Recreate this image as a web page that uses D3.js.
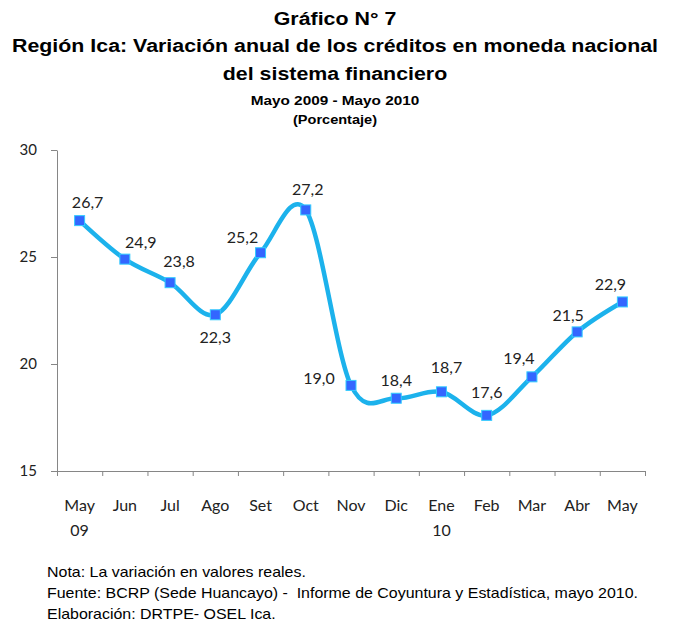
<!DOCTYPE html>
<html>
<head>
<meta charset="utf-8">
<script src="https://cdn.jsdelivr.net/npm/d3@7"></script>
<style>
  body { margin: 0; background: #fff; }
  .title { font-family: 'Liberation Sans', Arial, sans-serif; font-weight: bold; fill: #000; }
  .note { font-family: 'Liberation Sans', Arial, sans-serif; font-size: 14px; fill: #000; }
  .axis path, .axis line { stroke: #868686; }
  .axis text { font-family: Lato, 'Open Sans', sans-serif; font-size: 16px; fill: #222; }
  .lbl { font-family: Lato, 'Open Sans', sans-serif; font-size: 16px; fill: #222; }
</style>
</head>
<body>
<div id="chart"></div>
<script>
const months = ['May', 'Jun', 'Jul', 'Ago', 'Set', 'Oct', 'Nov', 'Dic', 'Ene', 'Feb', 'Mar', 'Abr', 'May']
const years = ['09', '', '', '', '', '', '', '', '10', '', '', '', '']
const values = [26.7, 24.9, 23.8, 22.3, 25.2, 27.2, 19.0, 18.4, 18.7, 17.6, 19.4, 21.5, 22.9]
const yTicks = [15, 20, 25, 30]

// where each value label sits relative to its point
const labelOffset = [
  [8, -19], [16, -18], [9, -22], [0, 22], [-18, -16], [2, -21], [-32, -8],
  [0, -19], [5, -25], [0, -24], [-13, -19], [-9, -17], [-12, -18]
]

const width = 673
const height = 640
const plot = { left: 57, right: 645, top: 150, bottom: 471 }

const svg = d3.select('#chart').append('svg')
  .attr('width', width)
  .attr('height', height)

// the source image is a bit stretched sideways, so text gets a horizontal scale
const titles = [
  { text: 'Gráfico N° 7', y: 25, size: 19, sx: 1.125 },
  { text: 'Región Ica: Variación anual de los créditos en moneda nacional', y: 52, size: 19, sx: 1.125 },
  { text: 'del sistema financiero', y: 80, size: 19, sx: 1.125 },
  { text: 'Mayo 2009 - Mayo 2010', y: 105, size: 13, sx: 1.18 },
  { text: '(Porcentaje)', y: 124, size: 13, sx: 1.12 }
]
svg.selectAll('.title').data(titles).enter()
  .append('text')
  .attr('class', 'title')
  .attr('transform', (d) => `translate(335,${d.y}) scale(${d.sx},1)`)
  .attr('text-anchor', 'middle')
  .style('font-size', (d) => d.size + 'px')
  .text((d) => d.text)

const x = d3.scaleBand()
  .domain(d3.range(months.length))
  .range([plot.left, plot.right])
  .paddingInner(0)

const xEdge = d3.scaleLinear()
  .domain([0, months.length])
  .range([plot.left, plot.right])

const y = d3.scaleLinear()
  .domain([15, 30])
  .range([plot.bottom, plot.top])

// y axis
const yAxis = svg.append('g')
  .attr('class', 'axis')
  .attr('transform', `translate(${plot.left},0)`)
  .call(d3.axisLeft(y).tickValues(yTicks).tickSize(6).tickPadding(14).tickSizeOuter(0))
yAxis.selectAll('text').style('font-size', '15px')

// x axis with ticks between categories
svg.append('g')
  .attr('class', 'axis')
  .attr('transform', `translate(0,${plot.bottom})`)
  .call(d3.axisBottom(xEdge).tickValues(d3.range(months.length + 1)).tickFormat('').tickSize(5).tickSizeOuter(0))

const cx = (i) => x(i) + x.bandwidth() / 2

const xLabels = svg.append('g')
  .selectAll('text')
  .data(months)
  .enter()
  .append('text')
  .attr('class', 'lbl')
  .attr('text-anchor', 'middle')
  .attr('x', (d, i) => cx(i))
  .attr('y', 511)
xLabels.append('tspan').text((d) => d)
xLabels.append('tspan')
  .attr('x', (d, i) => cx(i))
  .attr('dy', 25)
  .text((d, i) => years[i])

const line = d3.line()
  .x((d, i) => cx(i))
  .y((d) => y(d))
  .curve(d3.curveCardinal.tension(0))

svg.append('path')
  .datum(values)
  .attr('d', line)
  .style('fill', 'none')
  .style('stroke', '#1cb2ec')
  .style('stroke-width', 4.5)

svg.append('g')
  .selectAll('rect')
  .data(values)
  .enter()
  .append('rect')
  .attr('x', (d, i) => cx(i) - 5)
  .attr('y', (d) => y(d) - 5)
  .attr('width', 10)
  .attr('height', 10)
  .style('fill', '#3366ff')
  .style('stroke', '#33ccff')
  .style('stroke-width', 1)

svg.append('g')
  .selectAll('text')
  .data(values)
  .enter()
  .append('text')
  .attr('class', 'lbl')
  .attr('text-anchor', 'middle')
  .attr('dominant-baseline', 'central')
  .attr('x', (d, i) => cx(i) + labelOffset[i][0])
  .attr('y', (d, i) => y(d) + labelOffset[i][1])
  .text((d) => d3.format('.1f')(d).replace('.', ','))

const notes = [
  'Nota: La variación en valores reales.',
  'Fuente: BCRP (Sede Huancayo) -  Informe de Coyuntura y Estadística, mayo 2010.',
  'Elaboración: DRTPE- OSEL Ica.'
]
svg.selectAll('.note').data(notes).enter()
  .append('text')
  .attr('class', 'note')
  .attr('transform', (d, i) => `translate(47,${577 + i * 21}) scale(1.14,1)`)
  .style('white-space', 'pre')
  .text((d) => d)
</script>
</body>
</html>
